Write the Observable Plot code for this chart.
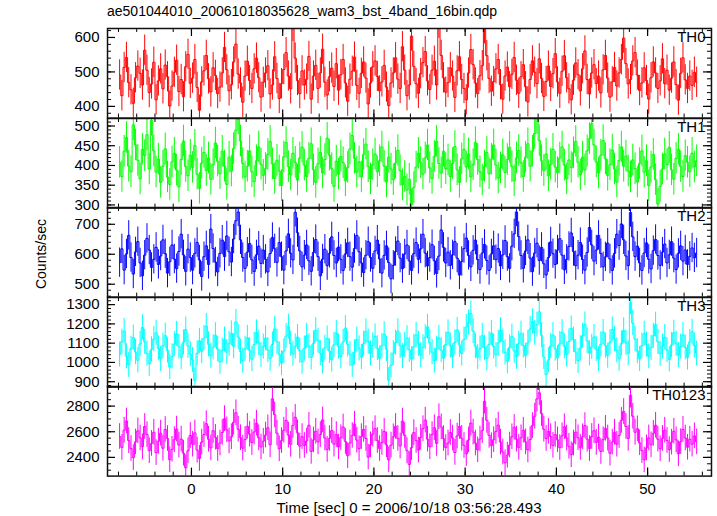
<!DOCTYPE html>
<html><head><meta charset="utf-8">
<script src="https://cdn.jsdelivr.net/npm/d3@7"></script>
<script src="https://cdn.jsdelivr.net/npm/@observablehq/plot@0.6"></script>
<style>
body{margin:0;background:#fff;}
#chart{position:relative;width:717px;height:516px;font-family:"Liberation Sans",Arial,Helvetica,sans-serif;color:#000;overflow:hidden;}
.title{position:absolute;left:107px;top:3px;font-size:14px;line-height:16px;white-space:nowrap;}
.ylab{position:absolute;left:41px;top:254px;transform:translate(-50%,-50%) rotate(-90deg);font-size:14px;white-space:nowrap;}
.xlab{position:absolute;left:409px;top:499px;transform:translateX(-50%);font-size:15px;line-height:17px;white-space:nowrap;}
.panel{position:absolute;left:0;}
</style></head><body><div id="chart"></div>
<script>
// ---- data ----
const titleText = "ae501044010_20061018035628_wam3_bst_4band_16bin.qdp";
const xLabelText = "Time [sec] 0 = 2006/10/18 03:56:28.493";
const yLabelText = "Counts/sec";
const tStart = -8.0;   // start of first bin (s)
const dt = 0.25;       // bin width (s)
const bands = ["TH0", "TH1", "TH2", "TH3", "TH0123"];
const colors = ["#ff0000", "#00ff00", "#0000ff", "#00ffff", "#ff00ff"];

const th0 = [
491,431,513,542,469,448,409,483,517,496,462,563,505,440,465,528,
419,474,509,451,520,486,401,459,499,534,443,478,428,515,551,467,
482,536,455,389,471,503,548,480,442,512,490,437,456,497,571,506,
445,463,529,581,494,468,412,488,531,475,452,509,540,483,427,470,
497,518,436,462,544,481,423,466,507,556,488,451,632,540,475,437,
503,462,479,545,421,488,519,452,497,566,470,433,486,511,458,524,
447,492,536,468,415,479,502,543,461,438,496,529,482,407,468,515,
532,487,445,471,519,456,402,468,497,541,479,452,573,505,431,462,
604,516,466,438,495,527,559,474,449,505,531,462,641,548,483,441,
469,512,488,426,503,544,478,452,419,497,565,521,468,437,489,518,
625,547,481,444,472,509,536,463,421,488,514,457,493,542,476,438,
486,521,457,413,478,532,499,466,538,481,429,472,517,458,495,553,
471,438,502,547,483,451,419,476,526,492,445,509,561,478,436,497,
521,466,488,439,506,548,482,427,471,513,459,497,536,598,524,465,
478,532,556,491,446,468,512,475,421,483,529,497,452,474,538,466,
505,447,482,529,463,418,496,541,477,452,488,461,499,470];

const th1 = [
408,372,436,471,398,384,503,452,413,366,441,425,478,391,514,437,
383,416,357,398,442,371,352,409,431,388,346,415,462,397,374,426,
395,451,378,342,406,433,387,419,365,402,457,411,379,436,398,352,
421,386,443,489,518,462,405,371,398,437,384,359,412,447,403,375,
392,428,461,404,367,413,386,349,422,458,397,376,431,408,363,419,
446,401,372,418,455,389,357,404,433,381,415,469,426,392,347,411,
378,423,407,361,395,442,476,418,383,409,371,428,454,397,366,402,
429,384,412,447,398,358,421,391,364,406,438,387,351,372,338,365,
301,344,396,431,407,378,419,452,394,367,423,461,405,381,436,392,
414,372,405,448,389,357,417,441,396,429,371,402,458,415,384,363,
398,433,379,416,452,401,368,394,427,382,415,446,397,361,419,438,
407,372,421,455,398,436,481,519,463,412,387,429,374,403,441,396,
382,419,447,401,366,414,395,432,461,408,376,421,389,437,468,506,
452,409,381,426,463,417,375,402,439,391,358,413,447,398,424,386,
371,414,392,358,405,437,383,412,349,396,428,364,302,347,391,429,
402,446,389,365,418,441,397,372,425,408,384,431,396,412];

const th2 = [
572,618,547,601,663,589,534,608,642,571,528,597,653,614,556,583,
623,566,594,648,602,537,575,631,584,552,609,667,598,543,617,589,
547,603,639,581,526,592,628,566,684,619,574,541,603,647,592,661,
608,574,651,712,741,648,589,553,607,636,581,542,598,627,569,614,
583,541,602,656,618,573,639,592,547,611,668,603,581,740,672,611,
558,597,631,578,543,606,649,592,528,584,617,562,603,658,596,571,
624,583,546,601,638,592,557,619,663,608,571,539,597,642,589,553,
611,647,584,537,596,628,572,518,563,609,644,587,552,601,631,578,
546,602,639,583,618,667,604,561,589,632,578,536,594,681,623,571,
607,563,598,642,587,531,576,619,654,596,558,613,647,582,549,604,
633,579,546,601,628,582,619,561,598,646,592,553,627,668,741,659,
596,553,611,648,587,542,604,637,579,623,568,531,589,641,602,566,
614,652,597,548,583,626,671,609,562,597,639,582,547,606,689,631,
577,614,663,602,558,591,637,584,546,603,667,629,701,648,594,562,
739,658,592,627,571,546,604,638,583,551,612,649,596,563,607,634,
571,598,642,587,549,603,628,577,614,566,593,621,588,604];

const th3 = [
1041,1108,1163,1032,987,1071,1129,1054,1011,1096,1182,1107,1046,993,1068,1121,
1154,1073,1018,1087,1139,1062,976,1031,1095,1148,1082,1027,1104,1171,1086,1043,
1012,906,1047,1112,1058,1126,1189,1094,1035,1078,1141,1069,1003,1062,1119,1053,
1097,1151,1084,1210,1132,1056,1008,1071,1128,1063,1017,1092,1156,1101,1039,1082,
1126,1064,1019,1093,1174,1108,1042,996,1059,1137,1186,1097,1045,1083,1132,1061,
1003,1072,1138,1085,1026,1099,1167,1113,1048,1005,1076,1124,1059,1014,1091,1153,
1082,1031,1106,1178,1094,1043,987,1052,1119,1073,1028,1097,1161,1108,1047,1089,
1135,1074,1021,1086,1147,1069,908,985,1048,1103,1162,1087,1034,1091,1126,1065,
1017,1081,1143,1096,1038,1079,1131,1185,1102,1053,1009,1071,1127,1064,1022,1093,
1156,1087,1032,1104,1168,1091,1046,1119,1183,1207,1254,1163,1084,1027,1072,1138,
1076,1021,1094,1152,1083,1039,1101,1167,1109,1052,1006,1078,1134,1061,1029,1097,
1149,1088,1035,1102,1173,1212,1154,1196,1263,1141,1028,937,1012,1085,1142,1071,
1023,1096,1157,1084,1041,1109,1176,1118,1054,1008,1073,1139,1197,1112,1048,1081,
1132,1069,1017,1094,1158,1087,1035,1104,1171,1121,1063,1019,1098,1166,1102,1047,
1312,1204,1121,1059,1018,1087,1149,1093,1032,1076,1138,1196,1107,1045,1083,1131,
1064,1016,1091,1154,1097,1038,1082,1143,1078,1025,1106,1159,1088,1046];

const th0123 = [
2563,2478,2612,2684,2531,2469,2398,2521,2607,2552,2483,2641,2578,2452,2509,2596,
2437,2526,2589,2471,2618,2547,2382,2463,2538,2621,2496,2543,2433,2319,2452,2571,
2503,2591,2456,2392,2519,2578,2663,2541,2474,2608,2557,2469,2512,2594,2702,2615,
2528,2561,2674,2748,2619,2553,2472,2539,2642,2581,2516,2598,2667,2553,2481,2526,
2574,2631,2498,2857,2732,2589,2467,2531,2612,2689,2574,2502,2649,2713,2592,2488,
2562,2493,2528,2651,2447,2536,2604,2521,2578,2692,2551,2462,2547,2609,2503,2578,
2481,2553,2637,2524,2413,2512,2571,2659,2534,2468,2562,2618,2547,2402,2498,2581,
2624,2532,2469,2517,2603,2498,2381,2496,2561,2642,2548,2489,2683,2571,2452,2345,
2476,2593,2532,2457,2556,2624,2691,2542,2483,2578,2632,2509,2717,2638,2547,2476,
2512,2594,2551,2438,2567,2641,2549,2493,2428,2536,2668,2597,2512,2459,2543,2609,
2838,2689,2572,2491,2538,2603,2652,2519,2442,2358,2417,2496,2561,2634,2542,2478,
2553,2612,2521,2458,2539,2648,2721,2856,2904,2742,2619,2548,2603,2562,2494,2578,
2537,2476,2568,2639,2551,2487,2421,2512,2597,2553,2478,2561,2648,2542,2469,2563,
2608,2517,2559,2446,2538,2627,2551,2432,2519,2596,2503,2571,2689,2758,2641,2548,
2885,2721,2596,2623,2514,2453,2381,2474,2552,2498,2587,2651,2542,2467,2548,2612,
2532,2461,2519,2604,2537,2428,2523,2618,2551,2479,2542,2503,2568,2521];

// 1-sigma error half-widths per band (counts/sec)
const errors = [44, 40, 49, 65, 100];

// axis settings
const xDomain = [-9.2, 57.0];
const xLabelTicks = [0, 10, 20, 30, 40, 50];
const xMinorTicks = [-8,-6,-4,-2,0,2,4,6,8,10,12,14,16,18,20,22,24,26,28,30,32,34,36,38,40,42,44,46,48,50,52,54,56];
const yDomains = [[366, 626], [292, 519], [457, 756], [872, 1337], [2254, 2953]];
const yLabelTicks = [[400, 500, 600], [300, 350, 400, 450, 500], [500, 600, 700], [900, 1000, 1100, 1200, 1300], [2400, 2600, 2800]];
const yMinorSteps = [20, 10, 20, 20, 50];

// ---- drawing ----
const chart = document.getElementById("chart");
const addDiv = (cls, text) => { const d = document.createElement("div"); d.className = cls; d.textContent = text; chart.appendChild(d); };
addDiv("title", titleText);
addDiv("ylab", yLabelText);

const W = 717, mL = 107, mR = 6;
const innerW = W - mL - mR;
const panelTop = 28, panelH = 89.6;
const series = [th0, th1, th2, th3, th0123];
const fontStack = "'Liberation Sans', Arial, Helvetica, sans-serif";

series.forEach((vals, i) => {
  const last = i === series.length - 1;
  const data = vals.map((v, j) => ({t: tStart + dt * (j + 0.5), v, lo: v - errors[i], hi: v + errors[i]}));
  const [y0, y1] = yDomains[i];
  const st = yMinorSteps[i];
  const yMinor = d3.range(Math.ceil(y0 / st) * st, y1, st);
  const extraB = last ? 40 : 0;
  const col = colors[i];
  const marks = [
    Plot.ruleX(data, {x: "t", y1: "lo", y2: "hi", stroke: col, strokeWidth: 1, clip: true}),
    Plot.line(data, {x: "t", y: "v", curve: "step", stroke: col, strokeWidth: 1, clip: true}),
    // x ticks, inward, bottom & top
    Plot.tickX(xMinorTicks, {x: d => d, insetTop: panelH - 4, stroke: "#000"}),
    Plot.tickX(xMinorTicks, {x: d => d, insetBottom: panelH - 4, stroke: "#000"}),
    Plot.tickX(xLabelTicks, {x: d => d, insetTop: panelH - 8, stroke: "#000", strokeWidth: 1.2}),
    Plot.tickX(xLabelTicks, {x: d => d, insetBottom: panelH - 8, stroke: "#000", strokeWidth: 1.2}),
    // y ticks, inward, left & right
    Plot.tickY(yMinor, {y: d => d, insetRight: innerW - 4, stroke: "#000"}),
    Plot.tickY(yMinor, {y: d => d, insetLeft: innerW - 4, stroke: "#000"}),
    Plot.tickY(yLabelTicks[i], {y: d => d, insetRight: innerW - 8, stroke: "#000", strokeWidth: 1.2}),
    Plot.tickY(yLabelTicks[i], {y: d => d, insetLeft: innerW - 8, stroke: "#000", strokeWidth: 1.2}),
    Plot.axisY(yLabelTicks[i], {tickSize: 0, tickPadding: 8, fontSize: 15, fill: "#000", label: null, tickFormat: d3.format("d")}),
    Plot.frame({stroke: "#111", strokeWidth: 1.5}),
    Plot.text([bands[i]], {frameAnchor: "top-right", lineAnchor: "top", dx: -6, dy: 3, fontSize: 15, fill: "#000"})
  ];
  if (last) marks.push(Plot.axisX(xLabelTicks, {tickSize: 0, tickPadding: 7, fontSize: 15, fill: "#000", label: null, tickFormat: d3.format("d")}));
  const svg = Plot.plot({
    width: W,
    height: panelH + 2 + extraB,
    marginLeft: mL, marginRight: mR, marginTop: 1, marginBottom: 1 + extraB,
    style: {overflow: "visible", fontFamily: fontStack, fontSize: "15px", background: "transparent", color: "#000"},
    x: {domain: xDomain, label: null, ...(last ? {} : {axis: null})},
    y: {domain: yDomains[i], label: null},
    marks
  });
  svg.classList.add("panel");
  svg.style.position = "absolute";
  svg.style.left = "0px";
  svg.style.top = (panelTop + i * panelH - 1) + "px";
  chart.appendChild(svg);
});

addDiv("xlab", xLabelText);
</script>
</body></html>
